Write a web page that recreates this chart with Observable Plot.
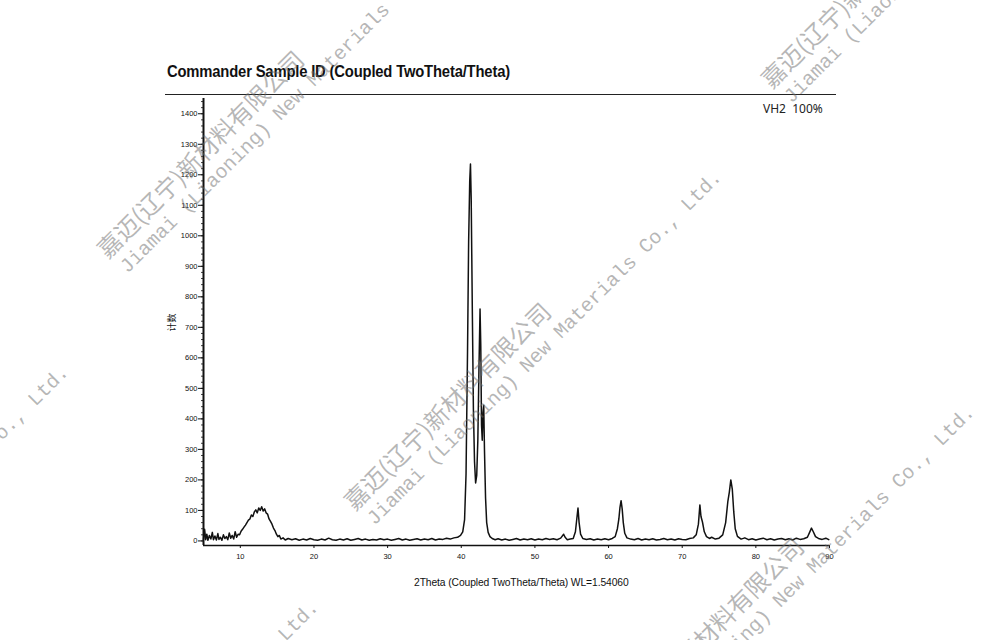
<!DOCTYPE html>
<html><head><meta charset="utf-8">
<script src="https://cdn.jsdelivr.net/npm/d3@7"></script>
<script src="https://cdn.jsdelivr.net/npm/@observablehq/plot@0.6"></script>
<style>
html,body{margin:0;padding:0;background:#fff}
body{width:1000px;height:640px;overflow:hidden;position:relative;font-family:"Liberation Sans",Arial,sans-serif;color:#111}
#title{position:absolute;left:167px;top:62px;font:bold 17px "Liberation Sans",Arial,sans-serif;white-space:nowrap;transform:scaleX(0.87);transform-origin:0 0;letter-spacing:-0.2px}
#rule{position:absolute;left:165px;top:94px;width:671px;height:0;border-top:1.5px solid #222}
#legend{position:absolute;left:763px;top:100px;font:12px "Noto Sans",sans-serif;color:#222;white-space:pre}
#chart{position:absolute;left:150px;top:90px}
#ylab{position:absolute;left:162px;top:316px;font:9px "Noto Sans CJK SC",sans-serif;transform:rotate(-90deg);transform-origin:center;white-space:nowrap}
#xlab{position:absolute;left:414px;top:577px;font:10.3px "Liberation Sans",Arial,sans-serif;white-space:nowrap;letter-spacing:-0.1px}
.wm{position:absolute;transform-origin:0 0;transform:rotate(-45deg);white-space:nowrap;color:rgba(110,110,110,0.5);pointer-events:none;line-height:1}
.wm .cn{font:24px "Noto Sans CJK SC",sans-serif;letter-spacing:0px}
.wm .en{font:20px "Liberation Mono","DejaVu Sans Mono",monospace;margin-top:0px;margin-left:4px}
</style></head>
<body>
<div id="title">Commander Sample ID (Coupled TwoTheta/Theta)</div>
<div id="rule"></div>
<div id="legend">VH2  100%</div>
<div id="ylab">计数</div>
<div id="chart"></div>
<div id="xlab">2Theta (Coupled TwoTheta/Theta) WL=1.54060</div>
<script>
const titleText = "Commander Sample ID (Coupled TwoTheta/Theta)";
const seriesName = "VH2  100%";
const xTicks = [10, 20, 30, 40, 50, 60, 70, 80, 90];
const yTicks = [0, 100, 200, 300, 400, 500, 600, 700, 800, 900, 1000, 1100, 1200, 1300, 1400];
const twoTheta = [
 5.0,5.15,5.3,5.45,5.6,5.8,6.0,6.2,6.35,6.55,6.75,6.95,7.1,7.3,7.5,7.7,7.9,8.1,8.3,8.5,8.7,8.9,9.1,9.3,9.5,9.7,9.9,
 10.1,10.3,10.5,10.7,10.9,11.1,11.3,11.5,11.7,11.9,12.1,12.3,12.5,12.7,12.9,13.1,13.3,13.5,13.7,13.9,14.1,14.3,14.5,14.7,14.9,15.1,15.3,15.5,15.8,
 16.1,16.5,17.0,17.5,18.0,18.5,19.0,19.5,20.0,20.5,21.0,21.5,22.0,22.5,23.0,23.5,24.0,24.5,25.0,25.5,26.0,26.5,27.0,27.5,28.0,28.5,29.0,29.5,
 30.0,30.5,31.0,31.5,32.0,32.5,33.0,33.5,34.0,34.5,35.0,35.5,36.0,36.5,37.0,37.5,38.0,38.5,39.0,39.5,39.9,
 40.2,40.45,40.65,40.85,41.0,41.15,41.25,41.35,41.5,41.65,41.8,41.95,42.1,42.25,42.4,42.55,42.65,42.75,42.85,42.95,43.05,43.15,43.3,43.45,43.65,43.9,
 44.2,44.6,45.0,45.5,46.0,46.5,47.0,47.5,48.0,48.5,49.0,49.5,50.0,50.5,51.0,51.5,52.0,52.5,53.0,53.5,53.9,54.1,54.4,54.8,
 55.2,55.5,55.7,55.85,56.0,56.2,56.5,57.0,57.5,58.0,58.5,59.0,59.5,60.0,60.5,60.9,61.2,61.4,61.55,61.7,61.85,62.0,62.2,62.5,
 63.0,63.5,64.0,64.5,65.0,65.5,66.0,66.5,67.0,67.5,68.0,68.5,69.0,69.5,70.0,70.5,71.0,71.5,71.9,72.2,72.4,72.55,72.75,73.0,73.3,73.7,
 74.0,74.5,75.0,75.5,75.9,76.2,76.4,76.6,76.8,77.0,77.2,77.5,78.0,78.5,79.0,79.5,80.0,80.5,81.0,81.5,82.0,82.5,83.0,83.5,
 84.0,84.5,85.0,85.5,86.0,86.5,87.0,87.3,87.55,87.8,88.1,88.5,89.0,89.5,89.9
];
const counts = [
 5,38,4,22,2,18,6,28,4,16,3,24,5,12,2,20,8,14,4,26,9,18,6,30,12,22,20,
 32,38,45,52,60,68,72,85,80,95,102,92,108,100,112,98,105,92,88,72,64,55,42,34,22,14,18,6,10,
 3,8,4,7,2,6,3,8,4,2,6,3,9,4,2,6,3,7,2,5,8,3,6,2,5,3,7,4,
 6,2,5,8,3,6,2,5,7,3,6,4,8,3,6,5,9,6,10,12,18,
 30,70,220,620,980,1180,1235,1120,760,430,260,190,215,330,560,760,640,380,330,420,445,300,140,60,28,14,
 8,4,7,3,6,2,5,8,3,6,4,7,3,6,4,8,5,7,4,9,22,12,4,6,
 8,30,75,108,60,22,8,5,7,3,6,4,7,4,8,14,40,72,110,132,105,60,25,10,
 6,4,8,3,6,4,7,3,5,8,4,6,3,7,5,4,8,10,20,55,118,80,62,30,14,8,
 12,6,9,20,60,130,160,200,170,95,40,15,6,10,4,7,3,6,9,4,7,3,6,8,
 4,7,3,9,5,7,12,28,42,30,14,8,5,9,4
];
const rows = twoTheta.map((t, i) => ({t, c: counts[i]}));
const yMinor = d3.range(0, 1441, 20);

const chart = Plot.plot({
  width: 700, height: 520,
  marginLeft: 53, marginRight: 21, marginTop: 8, marginBottom: 65,
  x: {domain: [5, 90], label: null},
  y: {domain: [-15, 1450], label: null},
  style: {fontFamily: "'Liberation Sans',Arial,sans-serif", fontSize: "7.5px", color: "#111", background: "transparent"},
  marks: [
    Plot.axisY(yMinor, {tickSize: 2, tickFormat: () => "", strokeWidth: 0.8, label: null}),
    Plot.axisY(yTicks, {tickSize: 5, tickPadding: 1, strokeWidth: 1, label: null, tickFormat: d => String(d)}),
    Plot.axisX(xTicks, {tickSize: 3, tickPadding: 5, label: null, tickFormat: d => String(d)}),
    Plot.ruleX([5], {y1: -15, y2: 1450, stroke: "#111", strokeWidth: 2}),
    Plot.ruleY([-15], {x1: 5, x2: 90, stroke: "#111", strokeWidth: 1.6}),
    Plot.line(rows, {x: "t", y: "c", stroke: "#111", strokeWidth: 1.5})
  ]
});
document.getElementById("chart").appendChild(chart);

const wmCn = "嘉迈(辽宁)新材料有限公司";
const wmEn = "Jiamai (Liaoning) New Materials Co., Ltd.";
const wmSpots = [[88,240],[335,492],[752,70],[588,727],[-318,687],[-68,922],[602,967]];
for (const [x, y] of wmSpots) {
  const d = document.createElement("div");
  d.className = "wm";
  d.style.left = x + "px"; d.style.top = y + "px";
  d.innerHTML = `<div class="cn">${wmCn}</div><div class="en">${wmEn}</div>`;
  document.body.appendChild(d);
}
</script>
</body></html>
